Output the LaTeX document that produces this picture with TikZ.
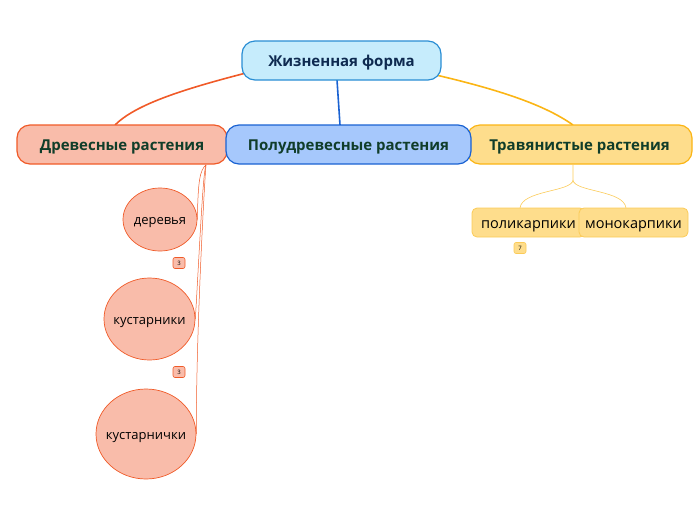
\documentclass[tikz,border=0pt]{standalone}
\usepackage{fontspec}
\setmainfont{Open Sans}
\usetikzlibrary{shapes.geometric}
\definecolor{rootfill}{HTML}{C6ECFC}
\definecolor{rootdraw}{HTML}{2A8ED4}
\definecolor{redfill}{HTML}{F9BCAA}
\definecolor{reddraw}{HTML}{F05A28}
\definecolor{bluefill}{HTML}{A6C8FC}
\definecolor{bluedraw}{HTML}{1A62D2}
\definecolor{yelfill}{HTML}{FEDD8C}
\definecolor{yeldraw}{HTML}{FBB515}
\definecolor{yellight}{HTML}{FBCB58}
\definecolor{txtgreen}{HTML}{103D2A}
\definecolor{txtnavy}{HTML}{0E2A50}
\newcommand{\dn}[2]{\raisebox{-#1}[0pt][0pt]{#2}}
\newcommand{\zw}[1]{\makebox[0pt]{\raisebox{-5pt}[0pt][0pt]{#1}}}
\tikzset{
  main/.style={rounded corners=13pt, line width=1.2pt, minimum height=39pt, inner sep=0pt, font=\fontsize{15}{17}\selectfont\bfseries, text=txtgreen},
  oval/.style={ellipse, draw=reddraw, fill=redfill, line width=0.7pt, inner sep=0pt, font=\fontsize{13}{15}\selectfont},
  sub/.style={rounded corners=5pt, draw=yellight, fill=yelfill, line width=0.8pt, minimum height=29pt, inner sep=0pt, font=\fontsize{14.5}{16}\selectfont},
  badge/.style={rounded corners=2pt, line width=0.6pt, minimum width=12pt, minimum height=11pt, inner sep=0pt, font=\fontsize{6}{7}\selectfont},
}
\begin{document}
\begin{tikzpicture}[x=1pt,y=-1pt]
\useasboundingbox (0,0) rectangle (696,520);
% connectors
\coordinate (rl) at (246,73);
\coordinate (rr) at (436,75);
\draw[reddraw, line width=1.6pt] (rl) .. controls (180,90) and (135,105) .. (115,125);
\draw[bluedraw, line width=1.6pt] (337,80) -- (340,125);
\draw[yeldraw, line width=1.6pt] (rr) .. controls (500,90) and (545,105) .. (573,125);
% main nodes
\node[main, draw=rootdraw, fill=rootfill, minimum width=199pt, text=txtnavy] (root) at (341.5,60.5) {\dn{5.5pt}{Жизненная форма}};
\node[main, draw=reddraw, fill=redfill, minimum width=210pt] (dr) at (122,144.5) {\dn{5.5pt}{Древесные растения}};
\node[main, draw=yeldraw, fill=yelfill, minimum width=225pt] (tr) at (579.5,144.5) {\dn{5.5pt}{Травянистые растения}};
\node[main, draw=bluedraw, fill=bluefill, minimum width=245pt] (pd) at (348.5,144.5) {\dn{5.5pt}{Полудревесные растения}};
% ovals
\node[oval, minimum width=74pt, minimum height=63pt] (o1) at (160,219.5) {\zw{деревья}};
\node[oval, minimum width=91pt, minimum height=82pt] (o2) at (149.5,319) {\zw{кустарники}};
\node[oval, minimum width=100pt, minimum height=90pt] (o3) at (146,434) {\zw{кустарнички}};
\coordinate (ds) at (206,165);
\draw[reddraw, line width=0.5pt] (ds) .. controls (200,170) and (198,180) .. (o1.east);
\draw[reddraw, line width=0.5pt] (ds) .. controls (203,172) and (200,240) .. (o2.east);
\draw[reddraw, line width=0.5pt] (ds) .. controls (205,174) and (196,330) .. (o3.east);
\node[badge, draw=reddraw, fill=redfill] (b1) at (179,263) {3};
\node[badge, draw=reddraw, fill=redfill] (b2) at (179,372) {3};
% sub nodes
\coordinate (tb) at (573,180);
\draw[yellight, line width=0.6pt] (tr.south -| tb) -- (tb) .. controls (572,192) and (522,190) .. (520,208);
\draw[yellight, line width=0.6pt] (tb) .. controls (574,192) and (624,190) .. (626,208);
\node[sub, minimum width=113pt] (pk) at (528.5,222.5) {\dn{5.5pt}{поликарпики}};
\node[sub, minimum width=109pt] (mk) at (633.5,222.5) {\dn{5.5pt}{монокарпики}};
\node[badge, draw=yellight, fill=yelfill] (b3) at (520,248) {7};
\end{tikzpicture}
\end{document}
